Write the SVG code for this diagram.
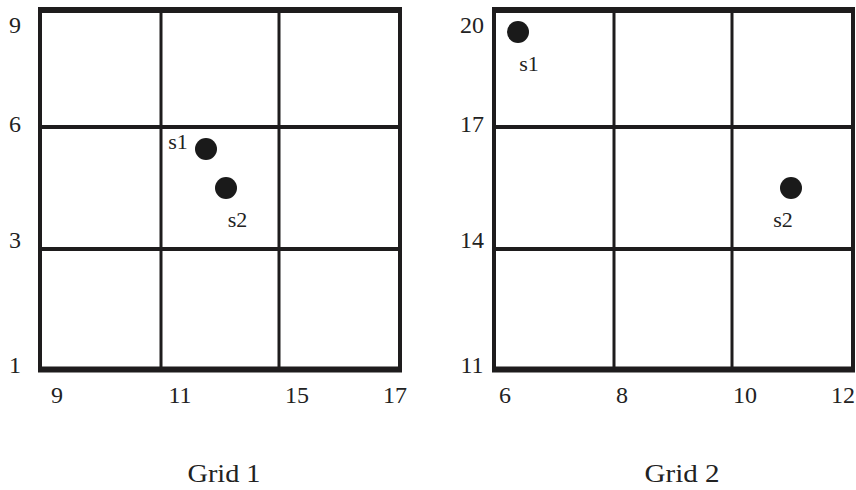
<svg xmlns="http://www.w3.org/2000/svg" width="856" height="490" viewBox="0 0 856 490">
<style>
.outer{stroke:#1e1c1d;stroke-width:4;fill:none}
.edge{stroke:#1e1c1d;stroke-width:6;fill:none}
.inner{stroke:#1e1c1d;stroke-width:3;fill:none}
.hin{stroke:#1e1c1d;stroke-width:4;fill:none}
.ax{font-family:"Liberation Serif","DejaVu Serif",serif;font-size:24px;fill:#222}
.pl{font-family:"Liberation Serif","DejaVu Serif",serif;font-size:22px;fill:#222}
.cap{font-family:"Liberation Serif","DejaVu Serif",serif;font-size:25px;fill:#222}
.dot{fill:#1a1a1a}
</style>
<rect width="856" height="490" fill="#fff"/>
<g id="grid1">
<line class="inner" x1="161" y1="10" x2="161" y2="369"/>
<line class="inner" x1="279" y1="10" x2="279" y2="369"/>
<line class="hin" x1="40" y1="127" x2="400" y2="127"/>
<line class="hin" x1="40" y1="249" x2="400" y2="249"/>
<line class="outer" x1="40" y1="8" x2="40" y2="372"/>
<line class="outer" x1="400" y1="8" x2="400" y2="372"/>
<line class="edge" x1="38" y1="10" x2="402" y2="10"/>
<line class="edge" x1="38" y1="369.5" x2="402" y2="369.5"/>
<text class="ax" x="15" y="33" text-anchor="middle">9</text>
<text class="ax" x="15" y="132" text-anchor="middle">6</text>
<text class="ax" x="15" y="248" text-anchor="middle">3</text>
<text class="ax" x="15" y="373" text-anchor="middle">1</text>
<text class="ax" x="57" y="403" text-anchor="middle">9</text>
<text class="ax" x="180" y="403" text-anchor="middle">11</text>
<text class="ax" x="297" y="403" text-anchor="middle">15</text>
<text class="ax" x="395" y="403" text-anchor="middle">17</text>
<circle class="dot" cx="206" cy="149" r="11"/>
<circle class="dot" cx="226" cy="188" r="11"/>
<text class="pl" x="178" y="149" text-anchor="middle">s1</text>
<text class="pl" x="237.5" y="227" text-anchor="middle">s2</text>
<text class="cap" x="224" y="482" text-anchor="middle" textLength="73" lengthAdjust="spacingAndGlyphs">Grid 1</text>
</g>
<g id="grid2">
<line class="inner" x1="614" y1="10" x2="614" y2="369"/>
<line class="inner" x1="732" y1="10" x2="732" y2="369"/>
<line class="hin" x1="494" y1="127" x2="853" y2="127"/>
<line class="hin" x1="494" y1="249" x2="853" y2="249"/>
<line class="outer" x1="494" y1="8" x2="494" y2="372"/>
<line class="outer" x1="853" y1="8" x2="853" y2="372"/>
<line class="edge" x1="492" y1="10" x2="855" y2="10"/>
<line class="edge" x1="492" y1="369.5" x2="855" y2="369.5"/>
<text class="ax" x="472" y="33" text-anchor="middle">20</text>
<text class="ax" x="472" y="132" text-anchor="middle">17</text>
<text class="ax" x="472" y="248" text-anchor="middle">14</text>
<text class="ax" x="472" y="373" text-anchor="middle">11</text>
<text class="ax" x="505" y="403" text-anchor="middle">6</text>
<text class="ax" x="622" y="403" text-anchor="middle">8</text>
<text class="ax" x="745" y="403" text-anchor="middle">10</text>
<text class="ax" x="843" y="403" text-anchor="middle">12</text>
<circle class="dot" cx="518" cy="32" r="11"/>
<circle class="dot" cx="791" cy="188" r="11"/>
<text class="pl" x="529" y="71" text-anchor="middle">s1</text>
<text class="pl" x="783" y="227" text-anchor="middle">s2</text>
<text class="cap" x="682" y="482" text-anchor="middle" textLength="75" lengthAdjust="spacingAndGlyphs">Grid 2</text>
</g>
<g id="connectors"></g>
</svg>
